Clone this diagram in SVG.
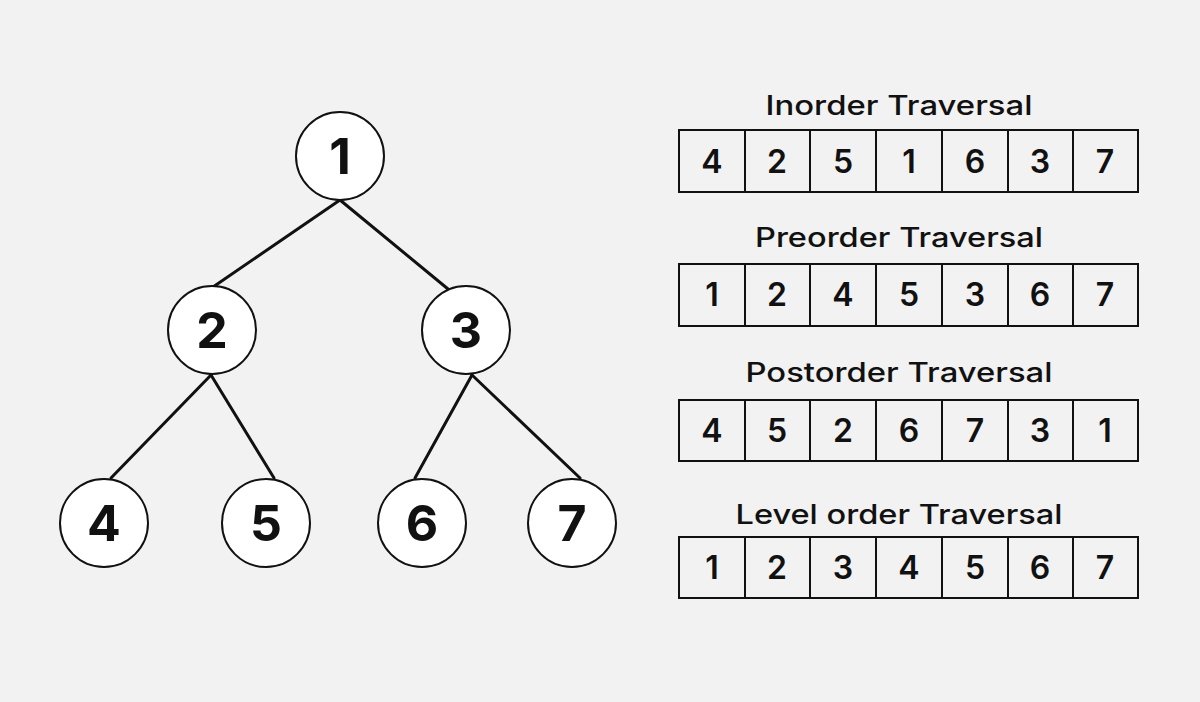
<svg xmlns="http://www.w3.org/2000/svg" width="1200" height="702" viewBox="0 0 1200 702">
<style>
.bg{fill:#f2f2f2}
.node circle{fill:#ffffff;stroke:#111;stroke-width:2}
.node text{font-family:Inter,"Liberation Sans",sans-serif;font-weight:700;font-size:50px;fill:#111;text-anchor:middle}
.edges line{stroke:#111;stroke-width:3;stroke-linecap:round}
.cell{fill:none;stroke:#111;stroke-width:2}
.title{font-family:Inter,"Liberation Sans",sans-serif;font-weight:500;font-size:27px;fill:#111;text-anchor:middle}
.val{font-family:Inter,"Liberation Sans",sans-serif;font-weight:600;font-size:32px;fill:#111;text-anchor:middle}
</style>
<rect class="bg" x="0" y="0" width="1200" height="702"/>
<g id="edges" class="edges">
<line x1="340" y1="200" x2="213" y2="287"/>
<line x1="340" y1="200" x2="448" y2="289"/>
<line x1="211" y1="375" x2="111" y2="478"/>
<line x1="211" y1="375" x2="274" y2="478"/>
<line x1="472" y1="375" x2="415" y2="478"/>
<line x1="472" y1="375" x2="580" y2="478"/>
</g>
<g id="node1" class="node"><circle cx="340" cy="156" r="44"/><text x="340" y="174">1</text></g>
<g id="node2" class="node"><circle cx="212" cy="330" r="44"/><text x="212" y="348">2</text></g>
<g id="node3" class="node"><circle cx="466" cy="330" r="44"/><text x="466" y="348">3</text></g>
<g id="node4" class="node"><circle cx="104" cy="523" r="44"/><text x="104" y="541">4</text></g>
<g id="node5" class="node"><circle cx="266" cy="523" r="44"/><text x="266" y="541">5</text></g>
<g id="node6" class="node"><circle cx="422" cy="523" r="44"/><text x="422" y="541">6</text></g>
<g id="node7" class="node"><circle cx="572" cy="523" r="44"/><text x="572" y="541">7</text></g>

<g id="inorder">
<text class="title" x="899" y="115" textLength="267" lengthAdjust="spacingAndGlyphs">Inorder Traversal</text>
<rect class="cell" x="679" y="130" width="459" height="62"/>
<path class="cell" d="M745 130V192M810 130V192M876 130V192M942 130V192M1008 130V192M1073 130V192"/>
<text class="val" x="712" y="173">4</text><text class="val" x="777" y="173">2</text><text class="val" x="843" y="173">5</text><text class="val" x="909" y="173">1</text><text class="val" x="975" y="173">6</text><text class="val" x="1040" y="173">3</text><text class="val" x="1105" y="173">7</text>
</g>
<g id="preorder">
<text class="title" x="899" y="247" textLength="288" lengthAdjust="spacingAndGlyphs">Preorder Traversal</text>
<rect class="cell" x="679" y="264" width="459" height="62"/>
<path class="cell" d="M745 264V326M810 264V326M876 264V326M942 264V326M1008 264V326M1073 264V326"/>
<text class="val" x="712" y="306">1</text><text class="val" x="777" y="306">2</text><text class="val" x="843" y="306">4</text><text class="val" x="909" y="306">5</text><text class="val" x="975" y="306">3</text><text class="val" x="1040" y="306">6</text><text class="val" x="1105" y="306">7</text>
</g>
<g id="postorder">
<text class="title" x="899" y="382" textLength="307" lengthAdjust="spacingAndGlyphs">Postorder Traversal</text>
<rect class="cell" x="679" y="400" width="459" height="61"/>
<path class="cell" d="M745 400V461M810 400V461M876 400V461M942 400V461M1008 400V461M1073 400V461"/>
<text class="val" x="712" y="442">4</text><text class="val" x="777" y="442">5</text><text class="val" x="843" y="442">2</text><text class="val" x="909" y="442">6</text><text class="val" x="975" y="442">7</text><text class="val" x="1040" y="442">3</text><text class="val" x="1105" y="442">1</text>
</g>
<g id="levelorder">
<text class="title" x="899" y="524" textLength="327" lengthAdjust="spacingAndGlyphs">Level order Traversal</text>
<rect class="cell" x="679" y="537" width="459" height="61"/>
<path class="cell" d="M745 537V598M810 537V598M876 537V598M942 537V598M1008 537V598M1073 537V598"/>
<text class="val" x="712" y="579">1</text><text class="val" x="777" y="579">2</text><text class="val" x="843" y="579">3</text><text class="val" x="909" y="579">4</text><text class="val" x="975" y="579">5</text><text class="val" x="1040" y="579">6</text><text class="val" x="1105" y="579">7</text>
</g>
</svg>
